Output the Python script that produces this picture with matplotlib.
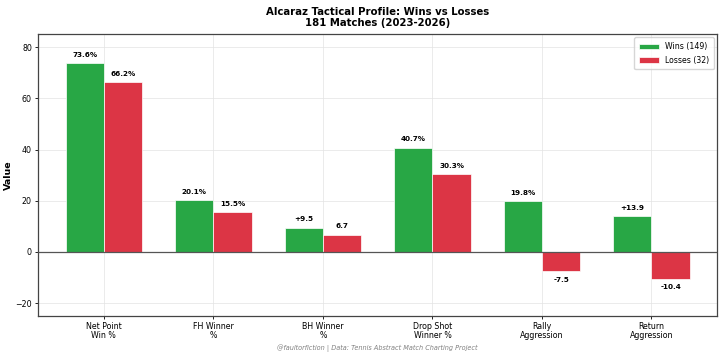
import matplotlib
matplotlib.use("Agg")
import matplotlib.pyplot as plt
import numpy as np

categories = ["Net Point\nWin %", "FH Winner\n%", "BH Winner\n%", "Drop Shot\nWinner %", "Rally\nAggression", "Return\nAggression"]
wins = [73.6, 20.1, 9.5, 40.7, 19.8, 13.9]
losses = [66.2, 15.5, 6.7, 30.3, -7.5, -10.4]
win_labels = ["73.6%", "20.1%", "+9.5", "40.7%", "19.8%", "+13.9"]
loss_labels = ["66.2%", "15.5%", "6.7", "30.3%", "-7.5", "-10.4"]

plt.rcParams['font.family'] = ['DejaVu Sans']
fig = plt.figure(figsize=(7.2, 3.57), dpi=100)
ax = fig.add_axes([0.053, 0.115, 0.943, 0.789])

x = np.arange(len(categories))
w = 0.35
ax.bar(x - w/2, wins, w, color='#28a745', edgecolor='white', linewidth=0.5, label='Wins (149)', zorder=3)
ax.bar(x + w/2, losses, w, color='#dc3545', edgecolor='white', linewidth=0.5, label='Losses (32)', zorder=3)

for xs, vals, labs in ((x - w/2, wins, win_labels), (x + w/2, losses, loss_labels)):
    for xi, v, lab in zip(xs, vals, labs):
        ax.text(xi, v + 2.2 if v >= 0 else v - 2.2, lab, ha='center',
                va='bottom' if v >= 0 else 'top', fontsize=5.2, fontweight='bold')

ax.axhline(0, color='#555555', linewidth=0.9, zorder=4)
ax.set_xlim(-0.6, 5.6)
ax.set_ylim(-25, 85)
ax.set_yticks([-20, 0, 20, 40, 60, 80])
ax.set_xticks(x)
ax.set_xticklabels(categories, fontsize=5.7, linespacing=1.05)
ax.tick_params(axis='y', labelsize=5.7, pad=2)
ax.tick_params(axis='x', pad=1.5)
ax.tick_params(axis='both', length=2.5, width=0.6)
ax.grid(True, color='#e3e3e3', linewidth=0.5, zorder=0)
for s in ax.spines.values():
    s.set_color('#444444')
    s.set_linewidth(0.9)
ax.set_ylabel('Value', fontsize=6.8, fontweight='bold', labelpad=1.5)
ax.legend(loc='upper right', fontsize=5.6, frameon=True, handlelength=2.6, borderpad=0.6,
          labelspacing=0.6, borderaxespad=0.4)

ax.set_title('Alcaraz Tactical Profile: Wins vs Losses\n181 Matches (2023-2026)',
             fontsize=7.3, fontweight='bold', pad=6, linespacing=1.15)
ax.text(0.5, -0.115, '@faultorfiction | Data: Tennis Abstract Match Charting Project',
        transform=ax.transAxes, ha='center', va='center', fontsize=4.7, style='italic', color='gray')

fig.savefig('out.png', dpi=100)
